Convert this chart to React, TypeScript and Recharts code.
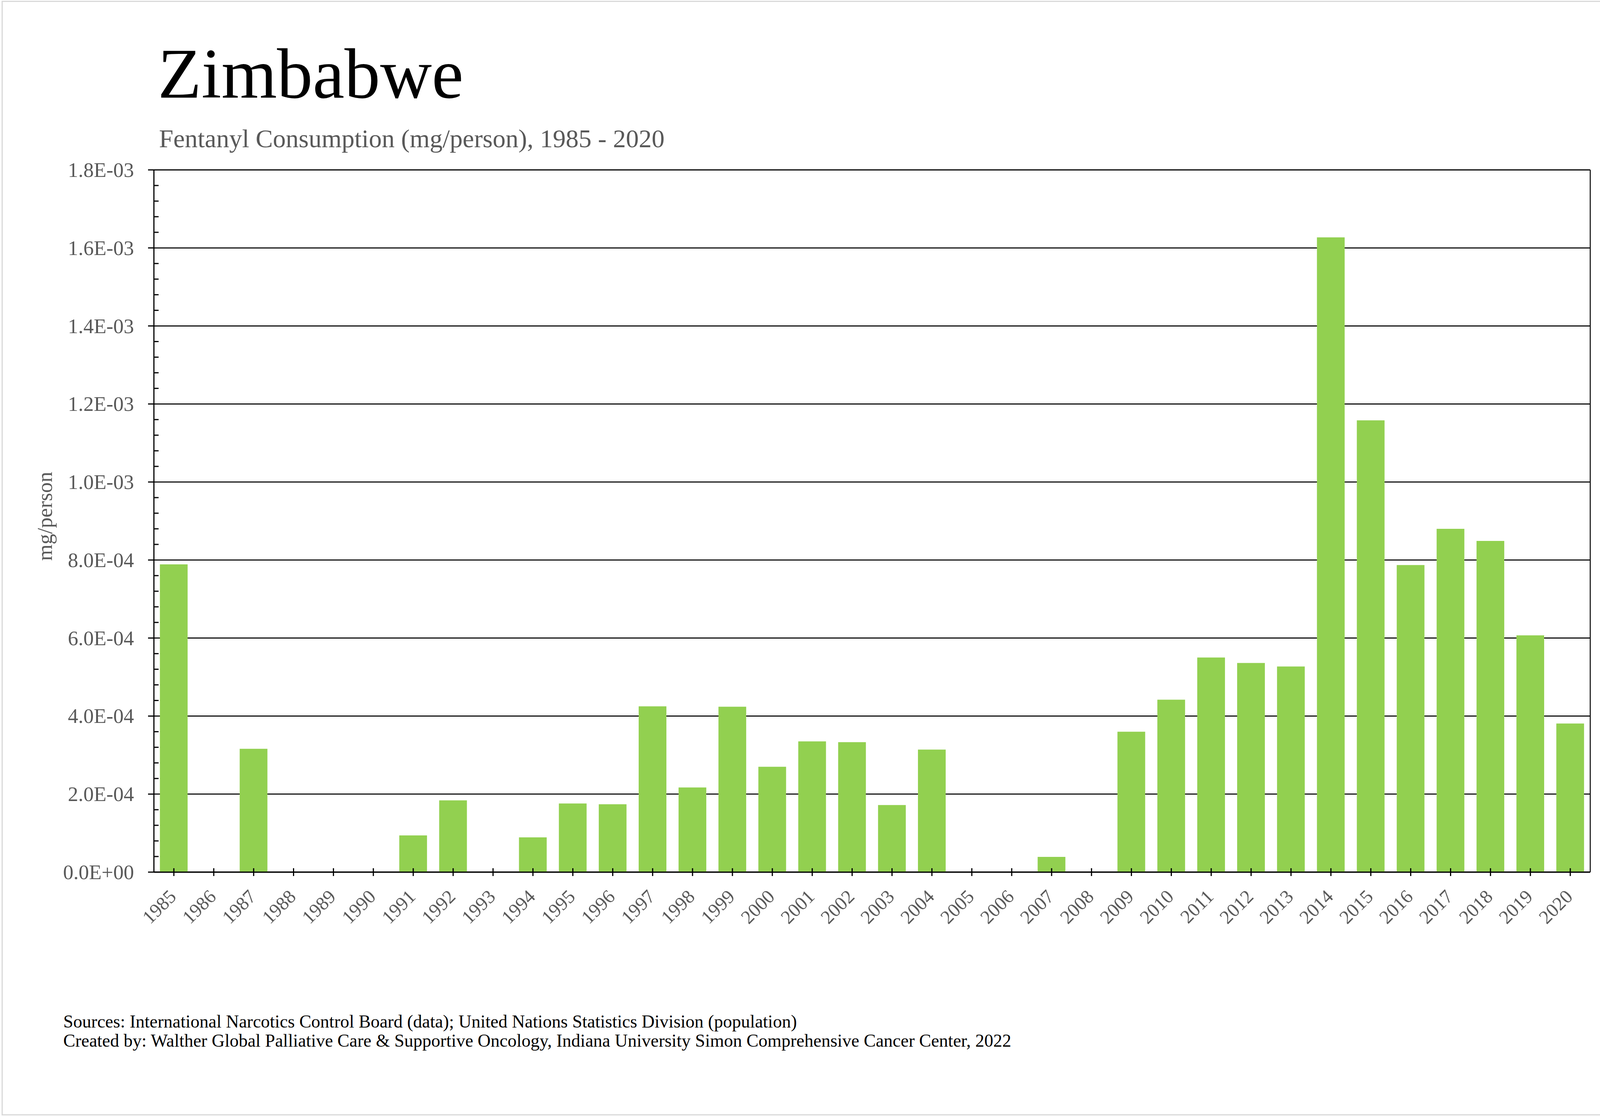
import { Bar, BarChart, CartesianGrid, XAxis, YAxis } from "recharts";

const YEARS = [
  "1985", "1986", "1987", "1988", "1989", "1990", "1991", "1992", "1993",
  "1994", "1995", "1996", "1997", "1998", "1999", "2000", "2001", "2002",
  "2003", "2004", "2005", "2006", "2007", "2008", "2009", "2010", "2011",
  "2012", "2013", "2014", "2015", "2016", "2017", "2018", "2019", "2020",
];

// mg/person
const CONSUMPTION = [
  7.89e-4, 0, 3.16e-4, 0, 0, 0, 0.94e-4, 1.84e-4, 0,
  0.89e-4, 1.76e-4, 1.74e-4, 4.25e-4, 2.17e-4, 4.24e-4, 2.7e-4, 3.35e-4, 3.33e-4,
  1.72e-4, 3.14e-4, 0, 0, 0.39e-4, 0, 3.6e-4, 4.42e-4, 5.5e-4,
  5.36e-4, 5.27e-4, 1.627e-3, 1.158e-3, 7.87e-4, 8.8e-4, 8.49e-4, 6.07e-4, 3.81e-4,
];

const Y_MAJOR = [0, 2e-4, 4e-4, 6e-4, 8e-4, 1e-3, 1.2e-3, 1.4e-3, 1.6e-3, 1.8e-3];
const MINOR_PER_MAJOR = 5;

const TITLE = "Zimbabwe";
const SUBTITLE = "Fentanyl Consumption (mg/person), 1985 - 2020";
const Y_LABEL = "mg/person";
const FOOTER = [
  "Sources: International Narcotics Control Board (data); United Nations Statistics Division (population)",
  "Created by: Walther Global Palliative Care & Supportive Oncology, Indiana University Simon Comprehensive Cancer Center, 2022",
];

const data = YEARS.map((year, i) => ({ year, value: CONSUMPTION[i] }));

const majorStep = Y_MAJOR[1] - Y_MAJOR[0];
const minorStep = majorStep / MINOR_PER_MAJOR;
const yTicks: number[] = [];
for (let i = 0; i <= (Y_MAJOR.length - 1) * MINOR_PER_MAJOR; i++) {
  yTicks.push(Number((i * minorStep).toFixed(8)));
}

const FONT = "'Times New Roman', 'Liberation Serif', serif";
const GREY = "#595959";
const GREEN = "#92d050";

function sci(v: number) {
  const [m, e] = v.toExponential(1).toUpperCase().split("E");
  const sign = e.startsWith("-") ? "-" : "+";
  const digits = e.replace(/[+-]/, "").padStart(2, "0");
  return `${m}E${sign}${digits}`;
}

function YTick(props: any) {
  const { x, y, payload } = props;
  const idx = Math.round(payload.value / minorStep);
  if (idx % MINOR_PER_MAJOR !== 0) {
    return <line x1={x} x2={x + 12} y1={y} y2={y} stroke="#000" strokeWidth={3} />;
  }
  return (
    <g>
      <line x1={x - 15} x2={x} y1={y} y2={y} stroke="#000" strokeWidth={3} />
      <text
        x={x - 51}
        y={y}
        dy="0.34em"
        textAnchor="end"
        fill={GREY}
        fontSize={53}
        fontFamily={FONT}
      >
        {sci(payload.value)}
      </text>
    </g>
  );
}

function XTick(props: any) {
  const { x, y, payload } = props;
  return (
    <g>
      <line x1={x} x2={x} y1={y - 10} y2={y + 10} stroke="#000" strokeWidth={3} />
      <text
        transform={`translate(${x - 3},${y + 54}) rotate(-45)`}
        dy="0.34em"
        textAnchor="end"
        fill={GREY}
        fontSize={49}
        fontFamily={FONT}
      >
        {payload.value}
      </text>
    </g>
  );
}

export default function App() {
  return (
    <div style={{ position: "absolute", left: 0, top: 0, width: 4221, height: 2860, background: "#fff" }}>
      <div
        style={{
          position: "absolute",
          left: 4,
          top: 2,
          width: 4213,
          height: 2854,
          border: "3px solid #d9d9d9",
          boxSizing: "border-box",
        }}
      />
      <div style={{ position: "absolute", left: 0, top: 0 }}>
        <BarChart
          width={4221}
          height={2860}
          data={data}
          margin={{ top: 435, right: 148, bottom: 587, left: 0 }}
          barCategoryGap="15%"
        >
          <CartesianGrid
            yAxisId="left"
            vertical={false}
            horizontal={(p: any) =>
              p.index % MINOR_PER_MAJOR === 0 ? (
                <line key={p.key} x1={p.x1} x2={p.x2} y1={p.y1} y2={p.y2} stroke="#000" strokeWidth={2.8} />
              ) : (
                <g key={p.key} />
              )
            }
          />
          <XAxis
            dataKey="year"
            interval={0}
            height={40}
            tickLine={false}
            tickSize={0}
            tickMargin={0}
            axisLine={{ stroke: "#000", strokeWidth: 3 }}
            tick={(p: any) => <XTick {...p} />}
          />
          <YAxis
            yAxisId="left"
            width={394}
            domain={[0, Y_MAJOR[Y_MAJOR.length - 1]]}
            ticks={yTicks}
            interval={0}
            tickLine={false}
            tickSize={0}
            tickMargin={0}
            axisLine={{ stroke: "#000", strokeWidth: 3 }}
            tick={(p: any) => <YTick {...p} />}
          />
          <YAxis
            yAxisId="right"
            orientation="right"
            width={2}
            tick={false}
            tickLine={false}
            axisLine={{ stroke: "#000", strokeWidth: 2.5 }}
          />
          <Bar yAxisId="left" dataKey="value" fill={GREEN} isAnimationActive={false} />
        </BarChart>
      </div>
      <svg
        width={4221}
        height={2860}
        style={{ position: "absolute", left: 0, top: 0, pointerEvents: "none" }}
        fontFamily={FONT}
      >
        <text x={404} y={250} fontSize={183} fill="#000">
          {TITLE}
        </text>
        <text x={407} y={377} fontSize={66} fill={GREY}>
          {SUBTITLE}
        </text>
        <text
          transform="translate(133,1322) rotate(-90)"
          textAnchor="middle"
          fontSize={54}
          fill={GREY}
        >
          {Y_LABEL}
        </text>
        {FOOTER.map((line, i) => (
          <text key={line} x={162} y={2631 + i * 49} fontSize={46} fill="#000">
            {line}
          </text>
        ))}
      </svg>
    </div>
  );
}
